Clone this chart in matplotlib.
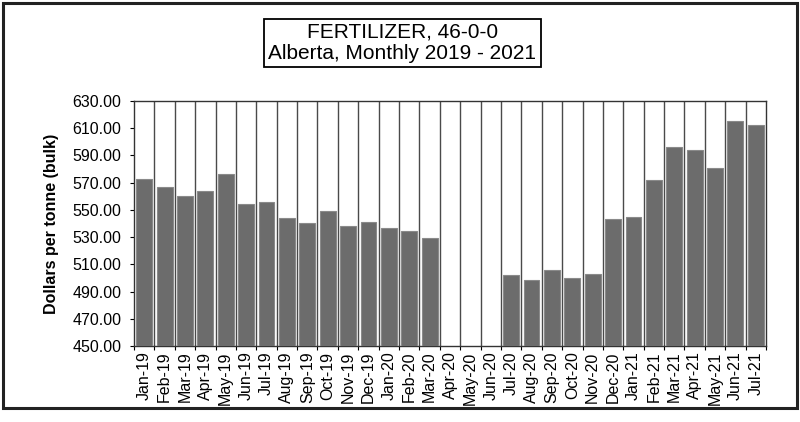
import numpy as np
import matplotlib.pyplot as plt
from matplotlib.patches import Rectangle

# data (None = no value reported)
months = ["Jan-19", "Feb-19", "Mar-19", "Apr-19", "May-19", "Jun-19", "Jul-19",
          "Aug-19", "Sep-19", "Oct-19", "Nov-19", "Dec-19", "Jan-20", "Feb-20",
          "Mar-20", "Apr-20", "May-20", "Jun-20", "Jul-20", "Aug-20", "Sep-20",
          "Oct-20", "Nov-20", "Dec-20", "Jan-21", "Feb-21", "Mar-21", "Apr-21",
          "May-21", "Jun-21", "Jul-21"]
prices = [572.5, 567.0, 560.0, 563.5, 576.5, 554.0, 556.0,
          544.0, 540.0, 549.5, 538.0, 541.0, 536.5, 534.5,
          529.0, None, None, None, 502.0, 498.5, 506.0,
          500.0, 503.0, 543.0, 545.0, 572.0, 596.0, 594.0,
          581.0, 615.0, 612.0]
yticks = [450, 470, 490, 510, 530, 550, 570, 590, 610, 630]

plt.rcParams['font.family'] = ['Liberation Sans', 'DejaVu Sans']

fig = plt.figure(figsize=(8, 4.22), dpi=100)
ax = fig.add_axes([0.1675, 0.18, 0.79, 0.581])

x = np.arange(len(months))
vals = np.array([np.nan if v is None else v for v in prices])
base = yticks[0]
ax.bar(x, vals - base, bottom=base, width=0.78, color='#6c6c6c',
       edgecolor='#8a8a8a', linewidth=0.8, zorder=3)

# vertical separators between months
for b in np.arange(0.5, len(months) - 0.5, 1.0):
    ax.axvline(b, color='#4a4a4a', linewidth=1.0, zorder=2)

ax.set_xlim(-0.5, len(months) - 0.5)
ax.set_ylim(yticks[0], yticks[-1])
ax.set_yticks(yticks)
ax.set_yticklabels([f"{v:.2f}" for v in yticks], fontsize=11.5)
ax.set_xticks(x)
ax.set_xticklabels(months, rotation=90, fontsize=11.5)
ax.tick_params(axis='x', length=0, pad=4)
ax.set_xticks(np.arange(-0.5, len(months), 1.0), minor=True)
ax.tick_params(axis='x', which='minor', length=3, width=0.8)
ax.tick_params(axis='y', length=3, width=0.8, pad=6)
for s in ax.spines.values():
    s.set_linewidth(1.0)
    s.set_color('#333333')

ax.set_ylabel("Dollars per tonne (bulk)", fontsize=11.5, fontweight='bold', labelpad=10)

# title box
fig.text(0.503, 0.898, "FERTILIZER, 46-0-0\nAlberta, Monthly 2019 - 2021",
         ha='center', va='center', fontsize=15, linespacing=1.15,
         bbox=dict(boxstyle='square,pad=0.2', facecolor='white',
                   edgecolor='black', linewidth=1.3))

# outer frame
fig.add_artist(Rectangle((0.004, 0.033), 0.992, 0.96, transform=fig.transFigure,
                         fill=False, edgecolor='#222222', linewidth=2.2))

fig.savefig("out.png", dpi=100)
